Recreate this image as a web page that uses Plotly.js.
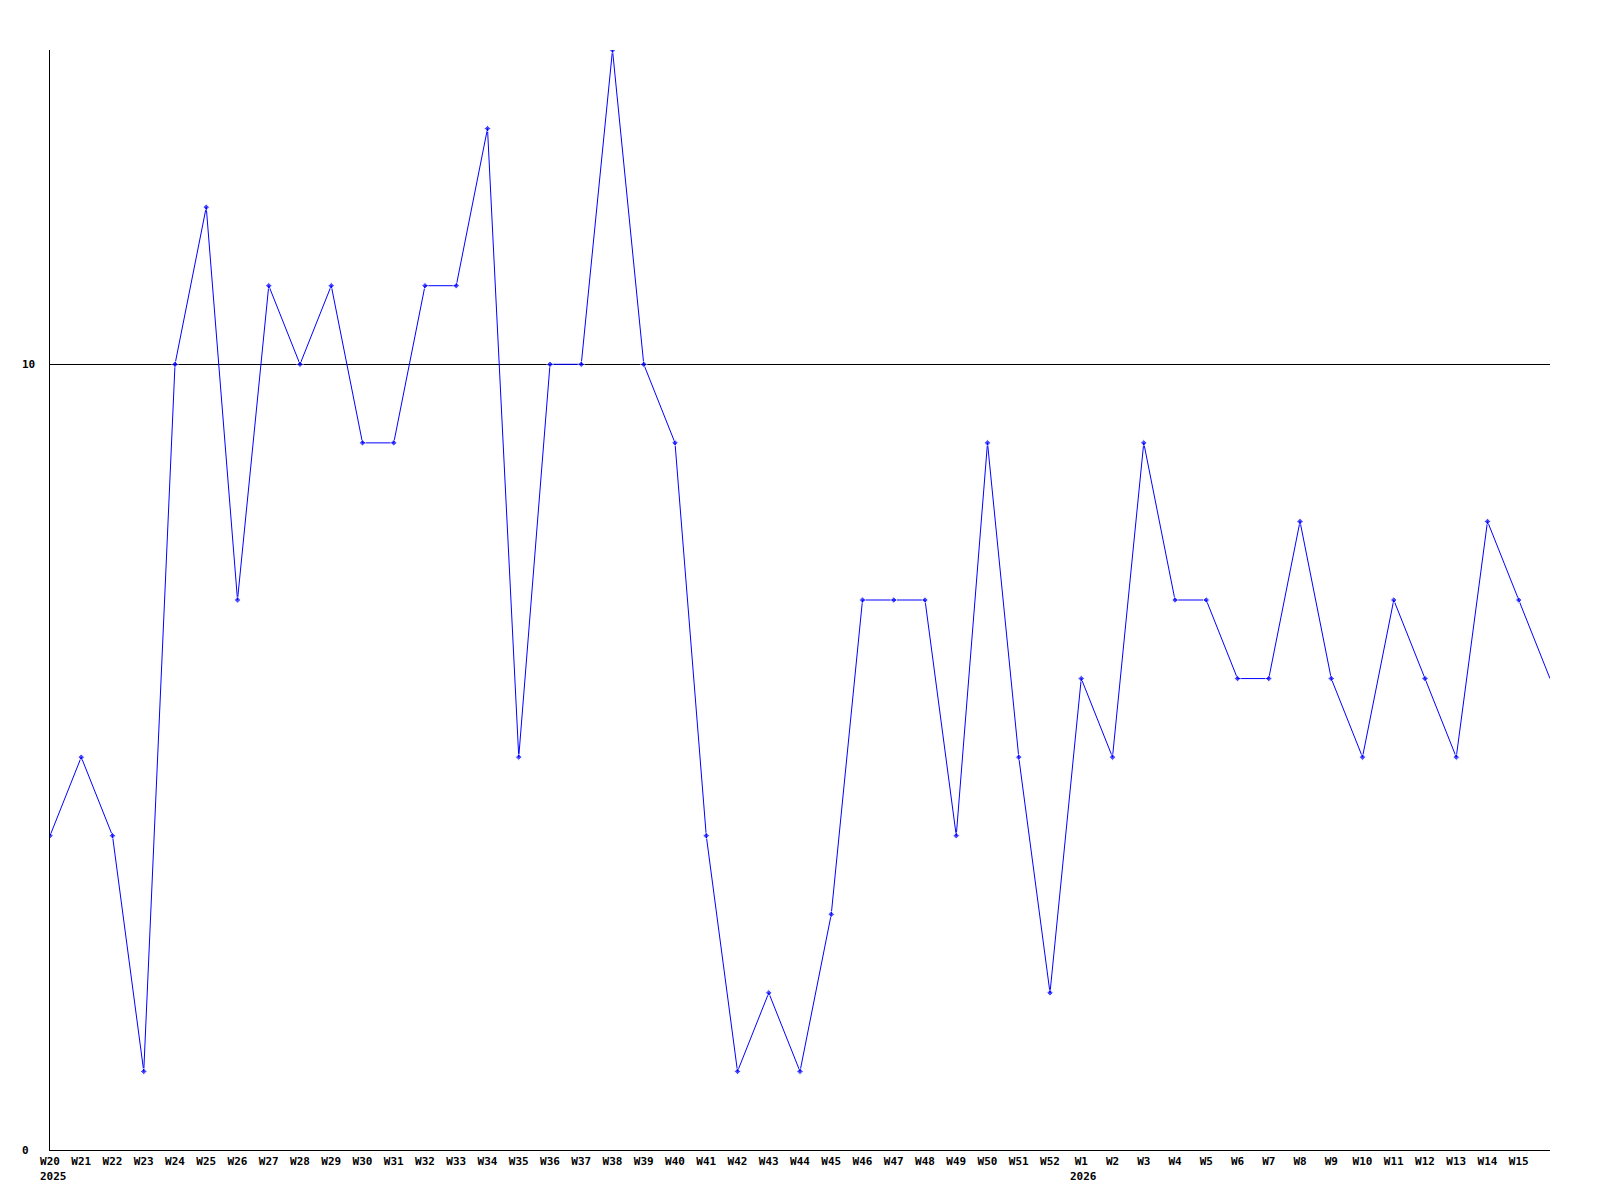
<!DOCTYPE html>
<html>
<head>
<meta charset="utf-8">
<script src="https://cdn.plot.ly/plotly-3.0.1.min.js"></script>
<style>html,body{margin:0;padding:0;background:#fff;}#chart{width:1600px;height:1200px;}</style>
</head>
<body>
<div id="chart"></div>
<script>
const weeks = ["W20","W21","W22","W23","W24","W25","W26","W27","W28","W29","W30","W31","W32","W33","W34","W35","W36","W37","W38","W39","W40","W41","W42","W43","W44","W45","W46","W47","W48","W49","W50","W51","W52","W1","W2","W3","W4","W5","W6","W7","W8","W9","W10","W11","W12","W13","W14","W15","W16"];
const values = [4,5,4,1,10,12,7,11,10,11,9,9,11,11,13,5,10,10,14,10,9,4,1,2,1,3,7,7,7,4,9,5,2,6,5,9,7,7,6,6,8,6,5,7,6,5,8,7,6];
const tickWeeks = weeks.slice(0, 48);
const yearLabels = ["2025","2026"];
const yearWeeks = ["W20","W1"];
const yTicks = [0, 10];

const font = {family: "DejaVu Sans Mono, monospace", size: 11, color: "#000"};
const markerSizes = values.map((v, i) => i === values.length - 1 ? 0 : 5);

const annotations = [];
yearLabels.forEach((t, i) => {
  annotations.push({x: yearWeeks[i], y: 0, xref: "x", yref: "paper", text: "<b>" + t + "</b>",
    showarrow: false, xanchor: "left", yanchor: "top", xshift: i === 0 ? -12 : -13, yshift: -18, font: font});
});
yTicks.forEach(v => {
  annotations.push({x: -0.02, y: v, xref: "paper", yref: "y", text: "<b>" + v + "</b>",
    showarrow: false, xanchor: "left", yanchor: "middle", font: font});
});

Plotly.newPlot("chart", [{
  x: weeks, y: values, type: "scatter", mode: "lines+markers",
  line: {color: "#0000ff", width: 1},
  marker: {symbol: "diamond", size: markerSizes, color: "#0000ff"},
  cliponaxis: true, hoverinfo: "skip"
}], {
  width: 1600, height: 1200,
  margin: {l: 50, r: 50, t: 50, b: 50},
  paper_bgcolor: "#fff", plot_bgcolor: "#fff",
  showlegend: false,
  font: font,
  xaxis: {type: "category", range: [0, 48], tickvals: tickWeeks,
    ticktext: tickWeeks.map(w => "<b>" + w + "</b>"),
    showgrid: false, zeroline: false, showline: true, linecolor: "#000", linewidth: 1,
    ticks: "", tickfont: font, ticklabelstandoff: 1, fixedrange: true},
  yaxis: {range: [0, 14], tickvals: [10], showticklabels: false,
    showgrid: true, gridcolor: "#000", gridwidth: 1, zeroline: false,
    showline: true, linecolor: "#000", linewidth: 1, ticks: "", fixedrange: true},
  annotations: annotations
}, {staticPlot: true});
</script>
</body>
</html>
